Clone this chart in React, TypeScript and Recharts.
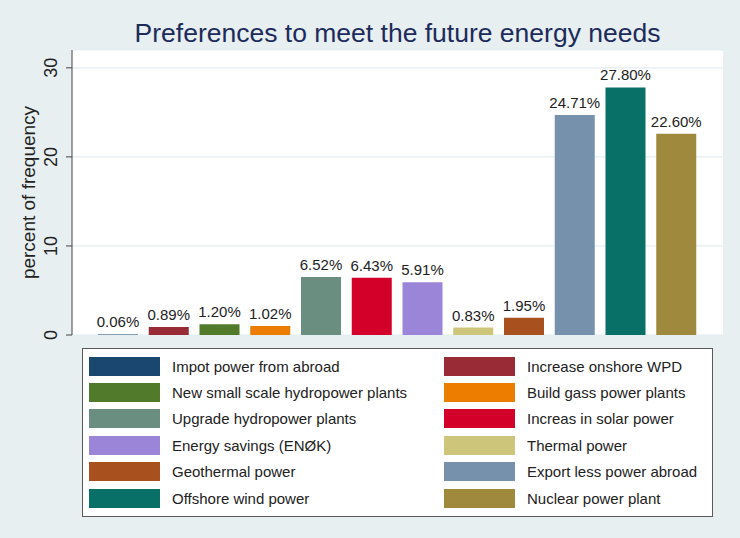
import { BarChart, Bar, Cell, XAxis, YAxis, CartesianGrid, LabelList } from 'recharts';

const categories = [
  'Impot power from abroad',
  'Increase onshore WPD',
  'New small scale hydropower plants',
  'Build gass power plants',
  'Upgrade hydropower plants',
  'Increas in solar power',
  'Energy savings (ENØK)',
  'Thermal power',
  'Geothermal power',
  'Export less power abroad',
  'Offshore wind power',
  'Nuclear power plant',
];

const percents = [0.06, 0.89, 1.2, 1.02, 6.52, 6.43, 5.91, 0.83, 1.95, 24.71, 27.8, 22.6];

const colors = [
  '#1a476f', '#992b36', '#517a2a', '#ec7d00', '#6a8f80', '#d3002a',
  '#9b85d8', '#cdc57a', '#a8511e', '#7691ab', '#087066', '#9f893c',
];

const yTicks = [0, 10, 20, 30];

const data = categories.map((name, i) => ({ name, value: percents[i], color: colors[i] }));

const FONT = '"Liberation Sans", Arial, Helvetica, sans-serif';
const BG = '#e7eff1';

function YTick({ x, y, payload }: any) {
  return (
    <text
      x={x - 7}
      y={y}
      transform={`rotate(-90, ${x - 7}, ${y})`}
      textAnchor="middle"
      fontSize={18}
      fontFamily={FONT}
      fill="#222"
    >
      {payload.value}
    </text>
  );
}

function YTitle({ viewBox }: any) {
  const cy = viewBox.y + viewBox.height / 2;
  return (
    <text
      x={35}
      y={cy}
      transform={`rotate(-90, 35, ${cy})`}
      textAnchor="middle"
      fontSize={19}
      fontFamily={FONT}
      fill="#222"
    >
      percent of frequency
    </text>
  );
}

function LegendBox() {
  return (
    <div
      style={{
        position: 'absolute', left: 82, top: 348, width: 629, height: 163,
        background: '#fff', border: '1px solid #5a5a5a',
        display: 'grid', gridTemplateColumns: '355px 274px', gridAutoRows: '26.4px',
        paddingTop: 4, boxSizing: 'content-box',
        fontFamily: FONT, fontSize: 15, color: '#222',
      }}
    >
      {data.map((d) => (
        <div key={d.name} style={{ display: 'flex', alignItems: 'center', paddingLeft: 6 }}>
          <span style={{ width: 71, height: 19, background: d.color, marginRight: 12, flexShrink: 0 }} />
          <span style={{ whiteSpace: 'nowrap' }}>{d.name}</span>
        </div>
      ))}
    </div>
  );
}

export default function App() {
  return (
    <div style={{ position: 'absolute', left: 0, top: 0, width: 740, height: 538, background: BG }}>
      <svg width={740} height={50} style={{ position: 'absolute', left: 0, top: 0 }}>
        <text x={397.5} y={42} textAnchor="middle" fontSize={26.5} fontFamily={FONT} fill="#1c2b5b">
          Preferences to meet the future energy needs
        </text>
      </svg>
      <div style={{ position: 'absolute', left: 0, top: 0 }}>
        <BarChart
          width={740}
          height={538}
          data={data}
          margin={{ top: 50, right: 17, bottom: 203, left: 0 }}
        >
          <CartesianGrid vertical={false} fill="#fff" stroke="#e4edf0" strokeWidth={1.2} />
          <XAxis
            dataKey="name"
            tick={false}
            tickLine={false}
            axisLine={{ stroke: '#111' }}
            padding={{ left: 21, right: 21 }}
            height={0}
          />
          <YAxis
            width={72}
            domain={[0, 32]}
            ticks={yTicks}
            tick={<YTick />}
            tickSize={6}
            tickLine={{ stroke: '#444' }}
            axisLine={{ stroke: '#444' }}
            label={{ content: <YTitle /> }}
          />
          <Bar dataKey="value" barSize={40} isAnimationActive={false}>
            {data.map((d) => (
              <Cell key={d.name} fill={d.color} />
            ))}
            <LabelList
              dataKey="value"
              position="top"
              offset={7}
              formatter={(v: any) => `${Number(v).toFixed(2)}%`}
              style={{ fontSize: 15, fontFamily: FONT, fill: '#222' }}
            />
          </Bar>
        </BarChart>
      </div>
      <LegendBox />
    </div>
  );
}
